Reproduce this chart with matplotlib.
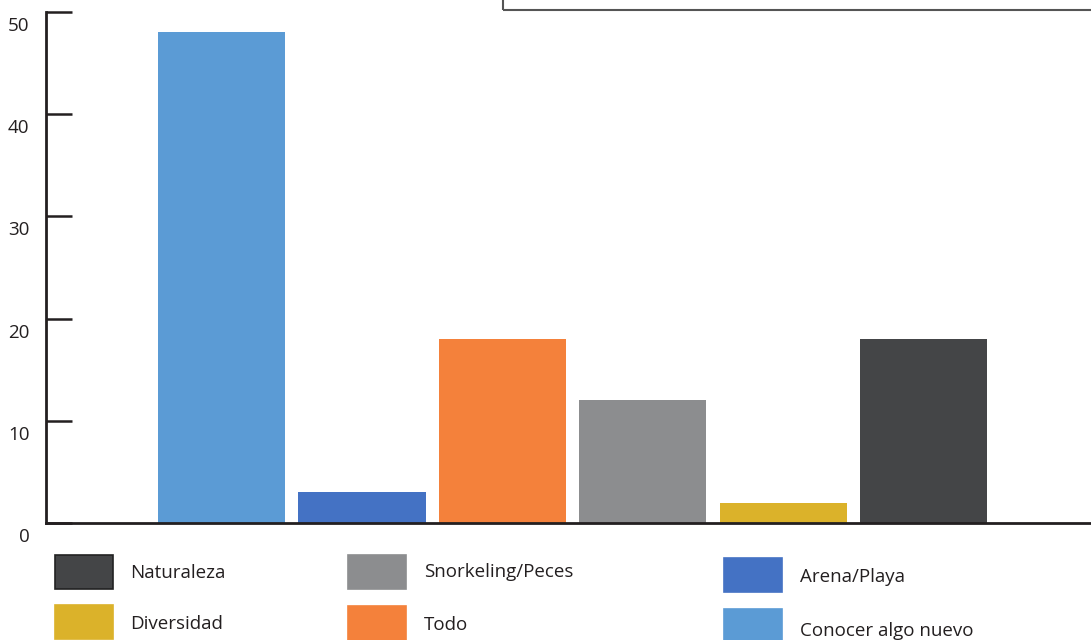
import matplotlib
matplotlib.use("Agg")
import matplotlib.pyplot as plt
from matplotlib.patches import Rectangle
from matplotlib.transforms import ScaledTranslation

plt.rcParams['font.family'] = ['Open Sans', 'DejaVu Sans']

# Data
categories = ["Conocer algo nuevo", "Arena/Playa", "Todo",
              "Snorkeling/Peces", "Diversidad", "Naturaleza"]
values = [48, 3, 18, 12, 2, 18]
colors = ["#5B9BD5", "#4472C4", "#F4813B", "#8C8D8F", "#DBB22A", "#444547"]
y_ticks = [0, 10, 20, 30, 40, 50]

# Legend order (3 columns x 2 rows)
legend_order = ["Naturaleza", "Snorkeling/Peces", "Arena/Playa",
                "Diversidad", "Todo", "Conocer algo nuevo"]

W, H = 1091, 640
fig = plt.figure(figsize=(W / 100, H / 100), dpi=100)

ax_left, ax_bottom, ax_top = 46, 523, 12
ax = fig.add_axes([ax_left / W, 1 - ax_bottom / H, 1 - ax_left / W, (ax_bottom - ax_top) / H])

x = range(len(categories))
ax.bar(x, values, width=0.905, color=colors, zorder=2)

ax.set_xlim(-1.25, 6.19)
ax.set_ylim(0, 50)
ax.set_yticks(y_ticks)
ax.set_xticks([])

ax.spines['top'].set_visible(False)
ax.spines['right'].set_visible(False)
for side in ['left', 'bottom']:
    ax.spines[side].set_linewidth(2.0)
    ax.spines[side].set_color('#231f20')
ax.spines['bottom'].set_zorder(3)

ax.tick_params(axis='y', direction='in', length=19, width=1.8, color='#231f20',
               pad=12, labelsize=13.5, labelcolor='#231f20')
shift = ScaledTranslation(0, -0.12, fig.dpi_scale_trans)
for lbl in ax.get_yticklabels():
    lbl.set_transform(lbl.get_transform() + shift)

# Partially visible box at the top
fig.patches.append(Rectangle((503 / W, 1 - 10 / H), 600 / W, 20 / H,
                             transform=fig.transFigure, fill=False,
                             edgecolor='#555555', linewidth=1.5))

# Manual legend
col_box_x = [55, 348, 724]
col_text_x = [130, 424, 800]
row_box_top = [[555, 555, 558], [605, 606, 609]]
row_text_y = [[573, 572, 577], [624, 625, 631]]
box_w, box_h = 58, 34
for i, name in enumerate(legend_order):
    r, c = divmod(i, 3)
    col = colors[categories.index(name)]
    edge = '#222222' if name == "Naturaleza" else col
    top = row_box_top[r][c]
    fig.patches.append(Rectangle((col_box_x[c] / W, 1 - (top + box_h) / H), box_w / W, box_h / H,
                                 transform=fig.transFigure, facecolor=col,
                                 edgecolor=edge, linewidth=1.2))
    fig.text(col_text_x[c] / W, 1 - row_text_y[r][c] / H, name, fontsize=13.5,
             color='#231f20', va='center', ha='left')

fig.savefig("out.png", dpi=100)
